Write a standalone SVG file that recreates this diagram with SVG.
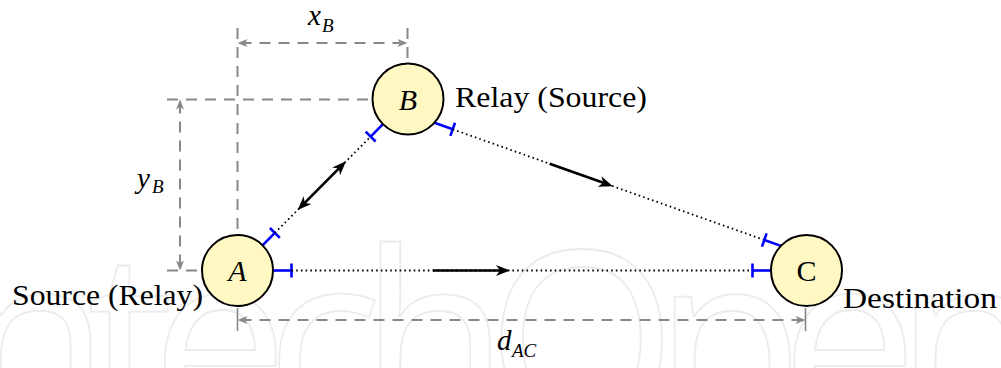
<svg xmlns="http://www.w3.org/2000/svg" width="1001" height="368" viewBox="0 0 1001 368">
<defs>
<style>
.dash{fill:none;stroke:#888;stroke-width:2;stroke-dasharray:11 8}
.tick{fill:none;stroke:#888;stroke-width:1.6}
.blue{fill:none;stroke:#00f;stroke-width:2.6;marker-end:url(#tb)}
.dot{fill:none;stroke:#000;stroke-width:1.8;stroke-dasharray:1.6 3.1}
.arr{fill:none;stroke:#000;stroke-width:2.6;marker-end:url(#ah)}
.node{fill:#fff8c2;stroke:#000;stroke-width:2}
text{fill:#000}
.wm{fill:none;stroke:#ececec;stroke-width:1.8}
</style>
<marker id="ah" viewBox="-12 -7 17 14" markerWidth="17" markerHeight="14" refX="0" refY="0" orient="auto-start-reverse" markerUnits="userSpaceOnUse"><path d="M4,0 L-10,-5.5 L-6,0 L-10,5.5 Z" fill="#000"/></marker>
<marker id="gh" viewBox="-9 -5 13 10" markerWidth="13" markerHeight="10" refX="0" refY="0" orient="auto-start-reverse" markerUnits="userSpaceOnUse"><path d="M3,0 L-7,-4 L-4.5,0 L-7,4 Z" fill="#888"/></marker>
<marker id="tb" viewBox="-2 -8 4 16" markerWidth="4" markerHeight="16" refX="0" refY="0" orient="auto" markerUnits="userSpaceOnUse"><path d="M0,-7 V7" stroke="#00f" stroke-width="2.6"/></marker>
</defs>
<rect width="1001" height="368" fill="#fff"/>
<text class="wm" x="-40" y="428" font-family="Open Sans, sans-serif" font-size="245" textLength="1085" lengthAdjust="spacing">ntechOpen</text>

<g id="dimensions" font-family="Liberation Serif, serif" font-style="italic">
<path class="dash" d="M237.5,28 V234"/>
<path class="dash" d="M407.5,28 V62"/>
<path class="dash" d="M167,99.5 H371"/>
<path class="dash" d="M167,270.5 H201"/>
<path class="dash" d="M240.5,43 H404.5" style="marker-start:url(#gh);marker-end:url(#gh)"/>
<path class="dash" d="M180,102.5 V267.5" style="marker-start:url(#gh);marker-end:url(#gh)"/>
<path class="dash" d="M240.5,320 H802.5" style="marker-start:url(#gh);marker-end:url(#gh)"/>
<path class="tick" d="M237.5,308 V331"/>
<path class="tick" d="M805.5,308 V331"/>
<text x="308" y="25" font-size="29">x</text>
<text x="322" y="32" font-size="19">B</text>
<text x="137" y="188" font-size="29">y</text>
<text x="152" y="193" font-size="19">B</text>
<text x="497" y="350" font-size="29">d</text>
<text x="512" y="357" font-size="19">AC</text>
</g>

<g id="connectors">
<path class="blue" d="M273,270.5 H291.5"/>
<path class="dot" d="M291.5,270.5 H752.5"/>
<path class="blue" d="M771,270.5 H752.5"/>
<path class="arr" d="M433,270.5 H506"/>

<path class="blue" d="M262.53,245.32 L274.87,232.91"/>
<path class="dot" d="M274.87,232.91 L370.63,136.59"/>
<path class="blue" d="M382.97,124.18 L370.63,136.59"/>
<path class="arr" d="M300.47,207.17 L343.19,164.19" style="marker-start:url(#ah)"/>

<path class="blue" d="M434.4,122.8 L452.7,129.3"/>
<path class="dot" d="M452.7,129.3 L764.3,240"/>
<path class="blue" d="M780.9,245.9 L764.3,240"/>
<path class="arr" d="M549.66,163.74 L609.03,184.83"/>
</g>

<g id="nodeA" font-family="Liberation Serif, serif">
<circle class="node" cx="237.5" cy="270.5" r="35.5"/>
<text x="237.5" y="281" font-size="30" font-style="italic" text-anchor="middle">A</text>
<text x="12" y="305" font-size="29" textLength="191" lengthAdjust="spacingAndGlyphs">Source (Relay)</text>
</g>
<g id="nodeB" font-family="Liberation Serif, serif">
<circle class="node" cx="408" cy="99" r="35.5"/>
<text x="408" y="109.5" font-size="30" font-style="italic" text-anchor="middle">B</text>
<text x="455" y="107" font-size="29" textLength="192" lengthAdjust="spacingAndGlyphs">Relay (Source)</text>
</g>
<g id="nodeC" font-family="Liberation Serif, serif">
<circle class="node" cx="806.5" cy="270.5" r="35.5"/>
<text x="806.5" y="280.5" font-size="30" text-anchor="middle">C</text>
<text x="843" y="308" font-size="29" textLength="154" lengthAdjust="spacingAndGlyphs">Destination</text>
</g>
</svg>
